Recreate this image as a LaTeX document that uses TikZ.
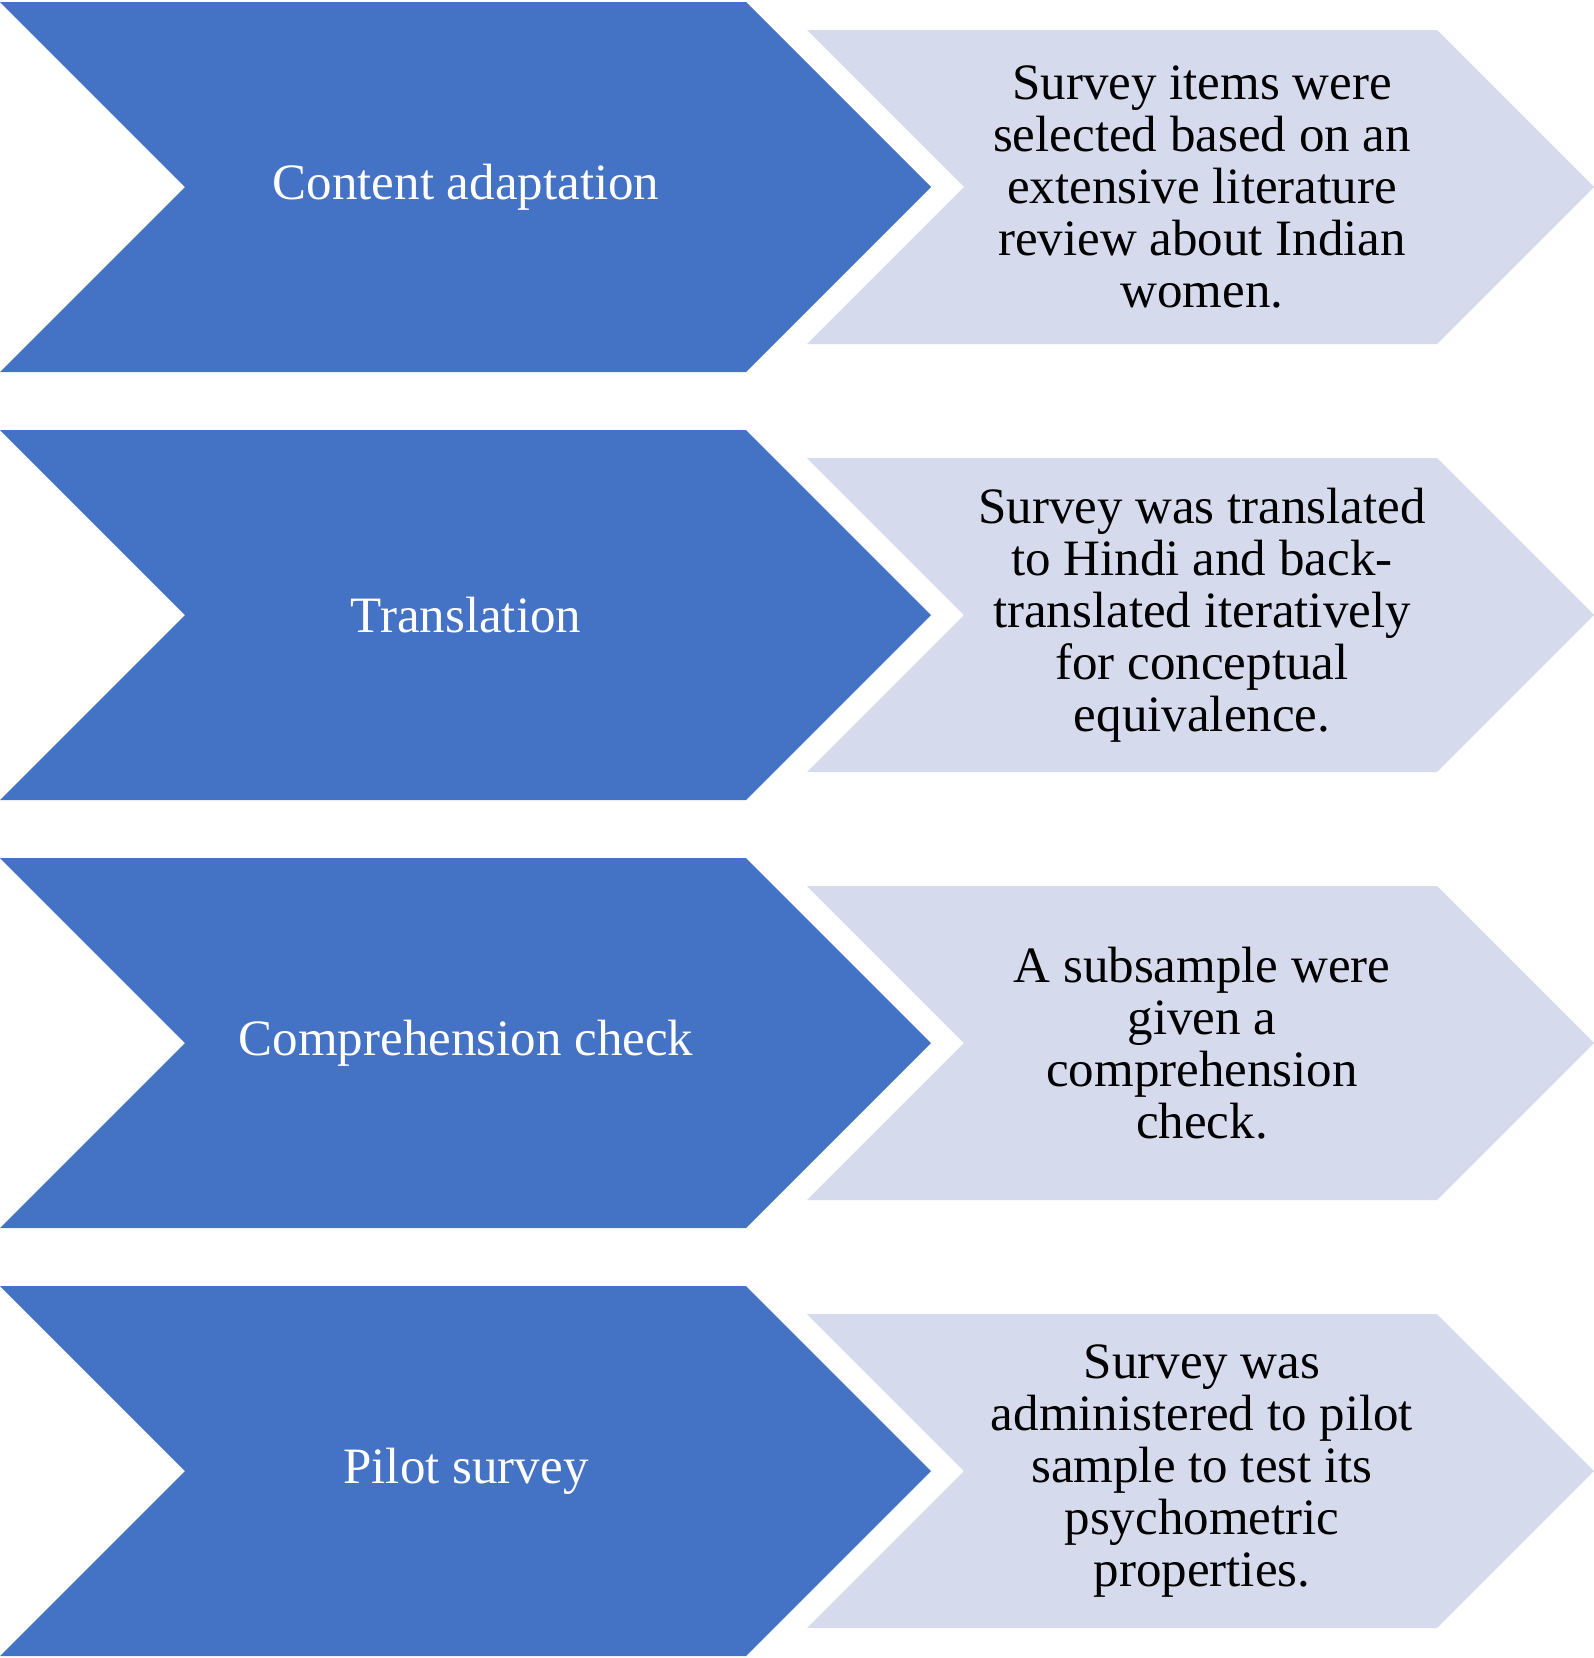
\documentclass[tikz,border=0pt]{standalone}
\usepackage{fontspec}
\setmainfont{Liberation Serif}
\definecolor{blueA}{HTML}{4472C4}
\definecolor{lightA}{HTML}{D5DBEC}
\tikzset{
  bluechev/.style={fill=blueA},
  lightchev/.style={fill=lightA},
  stagetext/.style={text=white, font=\fontsize{51}{52}\selectfont, align=center, inner sep=0pt},
  desctext/.style={text=black, font=\fontsize{51}{52}\selectfont, align=center, inner sep=0pt},
}
\newcommand\chevrow[4]{%
  \fill[bluechev] (0,#2-185) -- (746,#2-185) -- (931,#2) -- (746,#2+185) -- (0,#2+185) -- (185,#2) -- cycle;
  \fill[lightchev] (807,#2-157) -- (1437,#2-157) -- (1594,#2) -- (1437,#2+157) -- (807,#2+157) -- (964,#2) -- cycle;
  \node[stagetext] (stage#1) at (466,#2) {#3};
  \node[desctext] (desc#1) at (1202,#2) {#4};
}
\begin{document}
\begin{tikzpicture}[x=1pt,y=-1pt]
\useasboundingbox (0,0) rectangle (1594,1658);
\chevrow{1}{187}{Content adaptation}{Survey items were\\selected based on an\\extensive literature\\review about Indian\\women.}
\chevrow{2}{615}{Translation}{Survey was translated\\to Hindi and back-\\translated iteratively\\for conceptual\\equivalence.}
\chevrow{3}{1043}{Comprehension check}{A subsample were\\given a\\comprehension\\check.}
\chevrow{4}{1471}{Pilot survey}{Survey was\\administered to pilot\\sample to test its\\psychometric\\properties.}
\end{tikzpicture}
\end{document}
